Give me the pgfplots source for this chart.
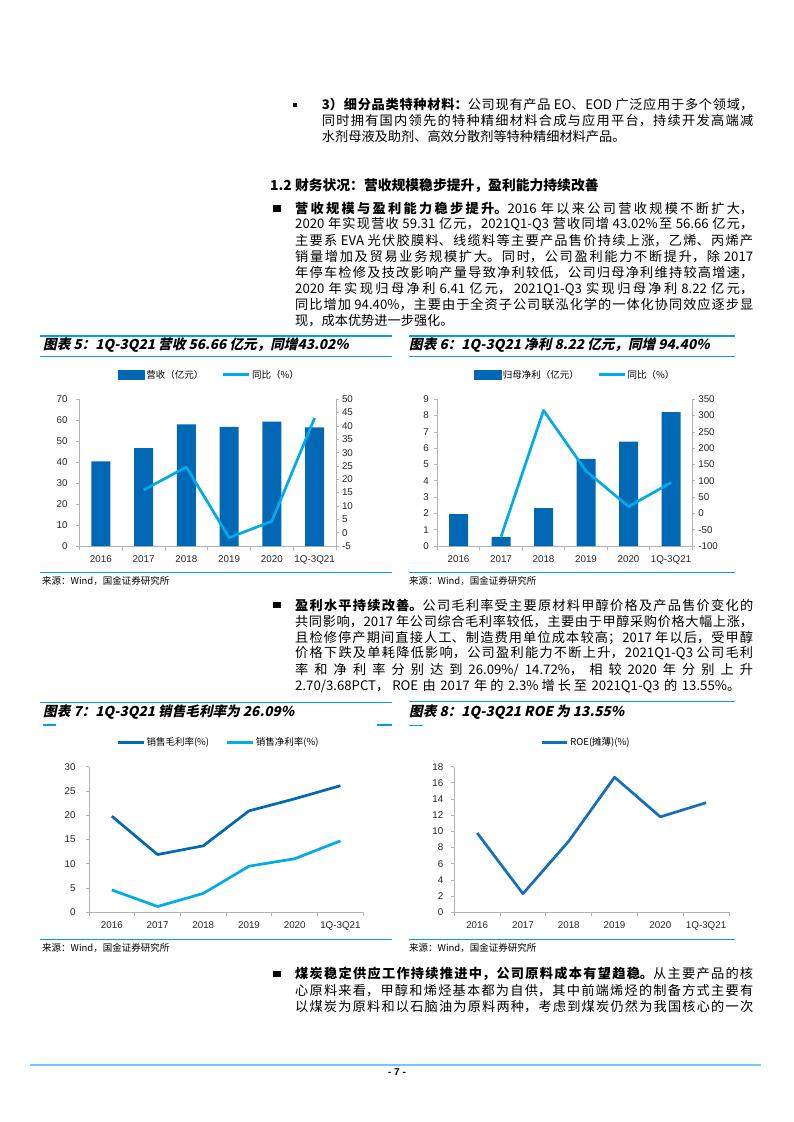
\documentclass[border=0pt]{standalone}
\usepackage{fontspec}
\setmainfont{Liberation Sans}
\newfontfamily\cjk{Noto Sans CJK SC}
\newfontfamily\cjkti{Noto Sans CJK SC}[FakeSlant=0.22]
\usepackage{pgfplots}
\pgfplotsset{compat=1.18}

\definecolor{barblue}{RGB}{0,104,180}
\definecolor{lineblue}{RGB}{0,170,235}
\definecolor{roeblue}{RGB}{20,110,190}
\definecolor{rule}{RGB}{0,160,233}
\definecolor{axgray}{RGB}{178,178,178}
\definecolor{footblue}{RGB}{120,200,240}

% one justified line of body text
\newcommand\jl[2]{\parbox[c]{#1}{\XeTeXlinebreaklocale "zh"\XeTeXlinebreakskip=0pt plus 3pt\XeTeXlinebreakpenalty=10000
  \hyphenpenalty=10000 \exhyphenpenalty=10000 \parfillskip=0pt\relax #2\par}}
\newcommand\body{\cjk\fontsize{13.2}{16}\selectfont}
\newcommand\ttl{\cjkti\bfseries\fontsize{13.6}{15}\selectfont}
\newcommand\src{\cjk\fontsize{9.5}{11}\selectfont}

\pgfplotsset{
  base/.style={scale only axis, xmin=-0.5, xmax=5.5, xtick={0,...,5},
    xticklabels={2016,2017,2018,2019,2020,1Q-3Q21},
    minor xtick={-0.5,0.5,...,5.5},
    tick align=outside, major tick length=3pt, minor tick length=4pt,
    major x tick style={draw=none},
    every tick/.style={axgray, line width=0.8pt},
    axis line style={axgray, line width=0.8pt},
    tick label style={font=\fontsize{9.8}{11}\selectfont, color=black!85},
    xticklabel style={yshift=-3pt},
    /pgf/number format/assume math mode=true,
    legend style={draw=none, fill=none, legend columns=-1, anchor=center,
      font=\cjk\fontsize{9.5}{11}\selectfont, inner sep=0pt,
      nodes={inner sep=1.5pt},
      /tikz/every even column/.append style={column sep=17pt}},
    legend cell align=left},
  barimg/.style={legend image code/.code={\fill[barblue] (0pt,-4.3pt) rectangle (26.7pt,4.3pt);}},
  lineimg/.style={legend image code/.code={\draw[#1,line width=3pt] (0pt,0pt) -- (25.7pt,0pt);}}
}

\begin{document}
\begin{tikzpicture}
\path[use as bounding box, fill=white] (0pt,0pt) rectangle (793pt,-1122pt);

% ---------- body text ----------
\fill (293.3pt,-103.3pt) rectangle (297.3pt,-107.3pt);
\node[anchor=west, inner sep=0pt] at (321.7pt,-105pt) {\body\jl{431.3pt}{{\bfseries 3）细分品类特种材料：}公司现有产品~EO、EOD~广泛应用于多个领域，}};
\node[anchor=west, inner sep=0pt] at (321.7pt,-121pt) {\body\jl{431.3pt}{同时拥有国内领先的特种精细材料合成与应用平台，持续开发高端减}};
\node[anchor=west, inner sep=0pt] at (321.7pt,-136.7pt) {\body 水剂母液及助剂、高效分散剂等特种精细材料产品。};

\node[anchor=west, inner sep=0pt] at (270pt,-185.7pt) {\cjk\bfseries\fontsize{13.8}{16}\selectfont 1.2 财务状况：营收规模稳步提升，盈利能力持续改善};

\fill (273.3pt,-205pt) rectangle (280.7pt,-211.7pt);
\node[anchor=west, inner sep=0pt] at (295pt,-208.3pt) {\body\jl{458pt}{{\bfseries 营收规模与盈利能力稳步提升。}2016~年以来公司营收规模不断扩大，}};
\node[anchor=west, inner sep=0pt] at (295pt,-224.3pt) {\body\jl{458pt}{2020~年实现营收~59.31~亿元，2021Q1-Q3~营收同增~43.02\%至~56.66~亿元，}};
\node[anchor=west, inner sep=0pt] at (295pt,-240.7pt) {\body\jl{458pt}{主要系~EVA~光伏胶膜料、线缆料等主要产品售价持续上涨，乙烯、丙烯产}};
\node[anchor=west, inner sep=0pt] at (295pt,-256.7pt) {\body\jl{458pt}{销量增加及贸易业务规模扩大。同时，公司盈利能力不断提升，除~2017}};
\node[anchor=west, inner sep=0pt] at (295pt,-272.7pt) {\body\jl{458pt}{年停车检修及技改影响产量导致净利较低，公司归母净利维持较高增速，}};
\node[anchor=west, inner sep=0pt] at (295pt,-289pt) {\body\jl{458pt}{2020~年实现归母净利~6.41~亿元，2021Q1-Q3~实现归母净利~8.22~亿元，}};
\node[anchor=west, inner sep=0pt] at (295pt,-305pt) {\body\jl{458pt}{同比增加~94.40\%，主要由于全资子公司联泓化学的一体化协同效应逐步显}};
\node[anchor=west, inner sep=0pt] at (295pt,-320.5pt) {\body 现，成本优势进一步强化。};

\fill (273.3pt,-601.7pt) rectangle (280.7pt,-608.4pt);
\node[anchor=west, inner sep=0pt] at (295pt,-605pt) {\body\jl{458pt}{{\bfseries 盈利水平持续改善。}公司毛利率受主要原材料甲醇价格及产品售价变化的}};
\node[anchor=west, inner sep=0pt] at (295pt,-621.7pt) {\body\jl{458pt}{共同影响，2017~年公司综合毛利率较低，主要由于甲醇采购价格大幅上涨，}};
\node[anchor=west, inner sep=0pt] at (295pt,-637.7pt) {\body\jl{458pt}{且检修停产期间直接人工、制造费用单位成本较高；2017~年以后，受甲醇}};
\node[anchor=west, inner sep=0pt] at (295pt,-653.3pt) {\body\jl{458pt}{价格下跌及单耗降低影响，公司盈利能力不断上升，2021Q1-Q3~公司毛利}};
\node[anchor=west, inner sep=0pt] at (295pt,-670pt) {\body\jl{458pt}{率和净利率分别达到~26.09\%/14.72\%，相较~2020~年分别上升}};
\node[anchor=west, inner sep=0pt] at (295pt,-686pt) {\body\jl{445pt}{2.70/3.68PCT，ROE~由~2017~年的~2.3\%增长至~2021Q1-Q3~的~13.55\%。}};

\fill (273.3pt,-970.7pt) rectangle (280.7pt,-977.4pt);
\node[anchor=west, inner sep=0pt] at (295pt,-974pt) {\body\jl{458pt}{{\bfseries 煤炭稳定供应工作持续推进中，公司原料成本有望趋稳。}从主要产品的核}};
\node[anchor=west, inner sep=0pt] at (295pt,-990.7pt) {\body\jl{458pt}{心原料来看，甲醇和烯烃基本都为自供，其中前端烯烃的制备方式主要有}};
\node[anchor=west, inner sep=0pt] at (295pt,-1006.7pt) {\body\jl{458pt}{以煤炭为原料和以石脑油为原料两种，考虑到煤炭仍然为我国核心的一次}};

% ---------- chart frames, titles, sources ----------
\draw[rule, line width=1.5pt] (40pt,-336pt) -- (392pt,-336pt);
\draw[rule, line width=1.5pt] (40pt,-356.5pt) -- (392pt,-356.5pt);
\draw[rule, line width=1.5pt] (40pt,-572.7pt) -- (392pt,-572.7pt);
\draw[rule, line width=1.5pt] (409pt,-336pt) -- (735pt,-336pt);
\draw[rule, line width=1.5pt] (409pt,-356.5pt) -- (735pt,-356.5pt);
\draw[rule, line width=1.5pt] (409pt,-572.7pt) -- (735pt,-572.7pt);
\draw[rule, line width=1.5pt] (40pt,-702.3pt) -- (392pt,-702.3pt);
\draw[rule, line width=1.5pt] (43pt,-725pt) -- (56pt,-725pt);
\draw[rule, line width=1.5pt] (377pt,-725pt) -- (392pt,-725pt);
\draw[rule, line width=1.5pt] (40pt,-939.3pt) -- (392pt,-939.3pt);
\draw[rule, line width=1.5pt] (409pt,-701.7pt) -- (735pt,-701.7pt);
\draw[rule, line width=1.5pt] (409pt,-725.7pt) -- (423pt,-725.7pt);
\draw[rule, line width=1.5pt] (409pt,-939.3pt) -- (735pt,-939.3pt);

\node[anchor=west, inner sep=0pt] at (43pt,-345.5pt) {\ttl 图表 5：1Q-3Q21 营收 56.66 亿元，同增43.02\%};
\node[anchor=west, inner sep=0pt] at (409pt,-345.5pt) {\ttl 图表 6：1Q-3Q21 净利 8.22 亿元，同增 94.40\%};
\node[anchor=west, inner sep=0pt] at (43pt,-711.7pt) {\ttl 图表 7：1Q-3Q21 销售毛利率为 26.09\%};
\node[anchor=west, inner sep=0pt] at (409pt,-711.7pt) {\ttl 图表 8：1Q-3Q21 ROE 为 13.55\%};

\node[anchor=west, inner sep=0pt] at (42pt,-580.7pt) {\src 来源：Wind，国金证券研究所};
\node[anchor=west, inner sep=0pt] at (409pt,-580.7pt) {\src 来源：Wind，国金证券研究所};
\node[anchor=west, inner sep=0pt] at (42pt,-948.3pt) {\src 来源：Wind，国金证券研究所};
\node[anchor=west, inner sep=0pt] at (409pt,-948.3pt) {\src 来源：Wind，国金证券研究所};

% ---------- chart 5: revenue ----------
\begin{axis}[base, at={(79.5pt,-546pt)}, anchor=south west, width=256.5pt, height=146.7pt,
  axis x line*=bottom, axis y line*=left, ymin=0, ymax=70, ytick={0,10,...,70},
  yticklabel style={xshift=-5.5pt}]
\addplot[ybar, bar width=19pt, fill=barblue, draw=none]
  coordinates {(0,40.4) (1,46.7) (2,58.0) (3,56.9) (4,59.31) (5,56.66)};
\end{axis}
\begin{axis}[base, at={(79.5pt,-546pt)}, anchor=south west, width=256.5pt, height=146.7pt,
  axis x line=none, axis y line*=right, ymin=-5, ymax=50, ytick={-5,0,...,50},
  yticklabel style={xshift=-0.5pt},
  legend style={at={(0.505,1.166)}}]
\addlegendimage{barimg}
\addlegendentry{营收（亿元）}
\addplot[lineblue, line width=2.7pt, line join=round, lineimg=lineblue]
  coordinates {(1,16.0) (2,24.6) (3,-1.9) (4,4.3) (5,43.02)};
\addlegendentry{同比（\%）}
\end{axis}

% ---------- chart 6: net profit ----------
\begin{axis}[base, at={(437.3pt,-546pt)}, anchor=south west, width=255pt, height=146.7pt,
  axis x line*=bottom, axis y line*=left, ymin=0, ymax=9, ytick={0,1,...,9},
  yticklabel style={xshift=-2pt}]
\addplot[ybar, bar width=19pt, fill=barblue, draw=none]
  coordinates {(0,1.95) (1,0.56) (2,2.33) (3,5.35) (4,6.41) (5,8.22)};
\end{axis}
\begin{axis}[base, at={(437.3pt,-546pt)}, anchor=south west, width=255pt, height=146.7pt,
  axis x line=none, axis y line*=right, ymin=-100, ymax=350, ytick={-100,-50,...,350},
  yticklabel style={xshift=-0.5pt},
  legend style={at={(0.54,1.166)}}]
\addlegendimage{barimg}
\addlegendentry{归母净利（亿元）}
\addplot[lineblue, line width=2.7pt, line join=round, lineimg=lineblue]
  coordinates {(1,-71.3) (2,316) (3,130) (4,21) (5,94.40)};
\addlegendentry{同比（\%）}
\end{axis}

% ---------- chart 7: margins ----------
\begin{axis}[base, at={(89pt,-912.3pt)}, anchor=south west, width=274.3pt, height=145.6pt,
  axis x line*=bottom, axis y line*=left, ymin=0, ymax=30, ytick={0,5,...,30},
  yticklabel style={xshift=-7pt},
  legend style={at={(0.471,1.167)}, /tikz/every even column/.append style={column sep=15pt}}]
\addplot[barblue, line width=2.7pt, line join=round, lineimg=barblue]
  coordinates {(0,19.8) (1,11.9) (2,13.7) (3,20.9) (4,23.39) (5,26.09)};
\addlegendentry{销售毛利率(\%)}
\addplot[lineblue, line width=2.7pt, line join=round, lineimg=lineblue]
  coordinates {(0,4.6) (1,1.2) (2,3.9) (3,9.5) (4,11.04) (5,14.72)};
\addlegendentry{销售净利率(\%)}
\end{axis}

% ---------- chart 8: ROE ----------
\begin{axis}[base, at={(454.3pt,-912.3pt)}, anchor=south west, width=274.7pt, height=145.6pt,
  axis x line*=bottom, axis y line*=left, ymin=0, ymax=18, ytick={0,2,...,18},
  yticklabel style={xshift=-4.5pt},
  legend style={at={(0.478,1.167)}}]
\addplot[roeblue, line width=2.7pt, line join=round, lineimg=roeblue]
  coordinates {(0,9.8) (1,2.3) (2,8.8) (3,16.7) (4,11.8) (5,13.55)};
\addlegendentry{ROE(摊薄)(\%)}
\end{axis}

% ---------- footer ----------
\draw[footblue, line width=2pt] (30pt,-1065pt) -- (761pt,-1065pt);
\node[inner sep=0pt] at (397pt,-1072.5pt) {\bfseries\fontsize{10}{12}\selectfont - 7 -};
\end{tikzpicture}
\end{document}
